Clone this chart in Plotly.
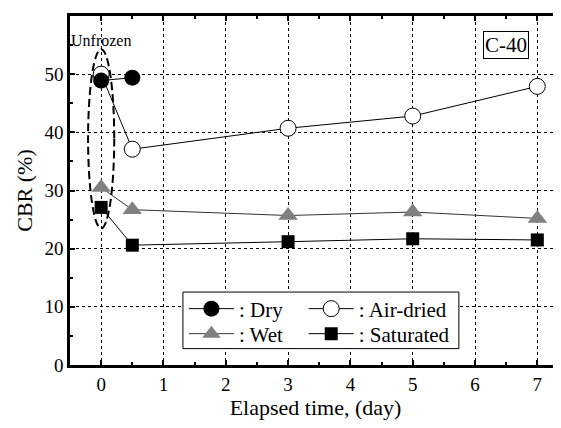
import plotly.graph_objects as go

# Data
dry_x = [0, 0.5]
dry_y = [48.9, 49.4]
air_x = [0, 0.5, 3, 5, 7]
air_y = [50.0, 37.1, 40.7, 42.8, 47.9]
wet_x = [0, 0.5, 3, 5, 7]
wet_y = [30.5, 26.7, 25.7, 26.3, 25.2]
sat_x = [0, 0.5, 3, 5, 7]
sat_y = [27.1, 20.6, 21.2, 21.7, 21.5]

x_ticks = [0, 1, 2, 3, 4, 5, 6, 7]
y_ticks = [0, 10, 20, 30, 40, 50, 60]

FONT = "'Liberation Serif', 'Times New Roman', serif"

fig = go.Figure()

line_style = dict(color="black", width=1)

fig.add_trace(go.Scatter(
    x=air_x, y=air_y, mode="lines+markers", name=": Air-dried", legend="legend2",
    line=line_style,
    marker=dict(symbol="circle", size=16, color="white", line=dict(color="black", width=1)),
))
fig.add_trace(go.Scatter(
    x=wet_x, y=wet_y, mode="lines+markers", name=": Wet", legend="legend3",
    line=dict(color="#333333", width=1),
    marker=dict(symbol="triangle-up", size=17, color="#808080", line=dict(color="#808080", width=0)),
))
fig.add_trace(go.Scatter(
    x=sat_x, y=sat_y, mode="lines+markers", name=": Saturated", legend="legend4",
    line=line_style,
    marker=dict(symbol="square", size=13, color="black"),
))
fig.add_trace(go.Scatter(
    x=dry_x, y=dry_y, mode="lines+markers", name=": Dry", legend="legend",
    line=line_style,
    marker=dict(symbol="circle", size=16, color="black"),
))

XR = [-0.5, 7.38]

axis_common = dict(
    showgrid=True, gridcolor="black", griddash="dot", gridwidth=1,
    ticks="inside", ticklen=5, tickwidth=2, tickcolor="black",
    showline=True, linecolor="black", linewidth=2.5,
    zeroline=False,
    tickfont=dict(family=FONT, size=19, color="black"),
)

def leg(x, y):
    return dict(
        x=x, y=y, xanchor="left", yanchor="middle",
        bgcolor="rgba(0,0,0,0)", borderwidth=0,
        font=dict(family=FONT, size=21), itemwidth=45,
        tracegroupgap=0,
    )

fig.update_layout(
    width=553, height=412,
    margin=dict(l=62, r=0, t=8, b=55),
    plot_bgcolor="white", paper_bgcolor="white",
    font=dict(family=FONT, color="black"),
    modebar=dict(bgcolor="rgba(0,0,0,0)", color="rgba(0,0,0,0)", activecolor="rgba(0,0,0,0)"),
    xaxis=dict(
        range=XR, tickvals=x_ticks, ticktext=[str(v) for v in x_ticks],
        minor=dict(dtick=0.5, tick0=0, ticks="inside", ticklen=3, tickwidth=2, tickcolor="black", showgrid=False),
        title=dict(text="Elapsed time, (day)", font=dict(family=FONT, size=22), standoff=4),
        **axis_common,
    ),
    xaxis2=dict(
        range=XR, overlaying="x", side="top", matches="x",
        tickvals=x_ticks, showticklabels=False, showgrid=False,
        ticks="inside", ticklen=5, tickwidth=2, tickcolor="black",
        minor=dict(dtick=0.5, tick0=0, ticks="inside", ticklen=3, tickwidth=2, tickcolor="black"),
        showline=True, linecolor="black", linewidth=2.5, zeroline=False,
    ),
    yaxis=dict(
        range=[0, 60], tickvals=y_ticks,
        minor=dict(dtick=5, tick0=0, ticks="inside", ticklen=3, tickwidth=2, tickcolor="black", showgrid=False),
        title=dict(text="CBR (%)", font=dict(family=FONT, size=22), standoff=6),
        **axis_common,
    ),
    legend=leg(0.232, 0.1605),
    legend2=leg(0.476, 0.1605),
    legend3=leg(0.232, 0.0888),
    legend4=leg(0.476, 0.0888),
    showlegend=True,
)

# invisible trace to activate xaxis2
fig.add_trace(go.Scatter(x=[None], y=[None], xaxis="x2", showlegend=False, hoverinfo="skip"))

shapes = [
    # legend box
    dict(type="rect", xref="paper", yref="paper", x0=0.230, x1=0.792, y0=0.047, y1=0.209,
         line=dict(color="black", width=1), fillcolor="white", layer="above"),
    # unfrozen ellipse
    dict(type="circle", xref="x", yref="y", x0=-0.21, x1=0.21, y0=23.5, y1=54.3,
         line=dict(color="black", width=2, dash="8px,4px"), layer="above"),
]
fig.update_layout(shapes=shapes)

fig.add_annotation(x=0, y=55.8, xref="x", yref="y", text="Unfrozen", showarrow=False,
                   yanchor="middle", xanchor="center", font=dict(family=FONT, size=16))
fig.add_annotation(x=6.5, y=55.1, xref="x", yref="y", text="C-40", showarrow=False,
                   font=dict(family=FONT, size=21), bordercolor="black", borderwidth=1,
                   borderpad=1, bgcolor="white")

fig.write_html("out.html")
